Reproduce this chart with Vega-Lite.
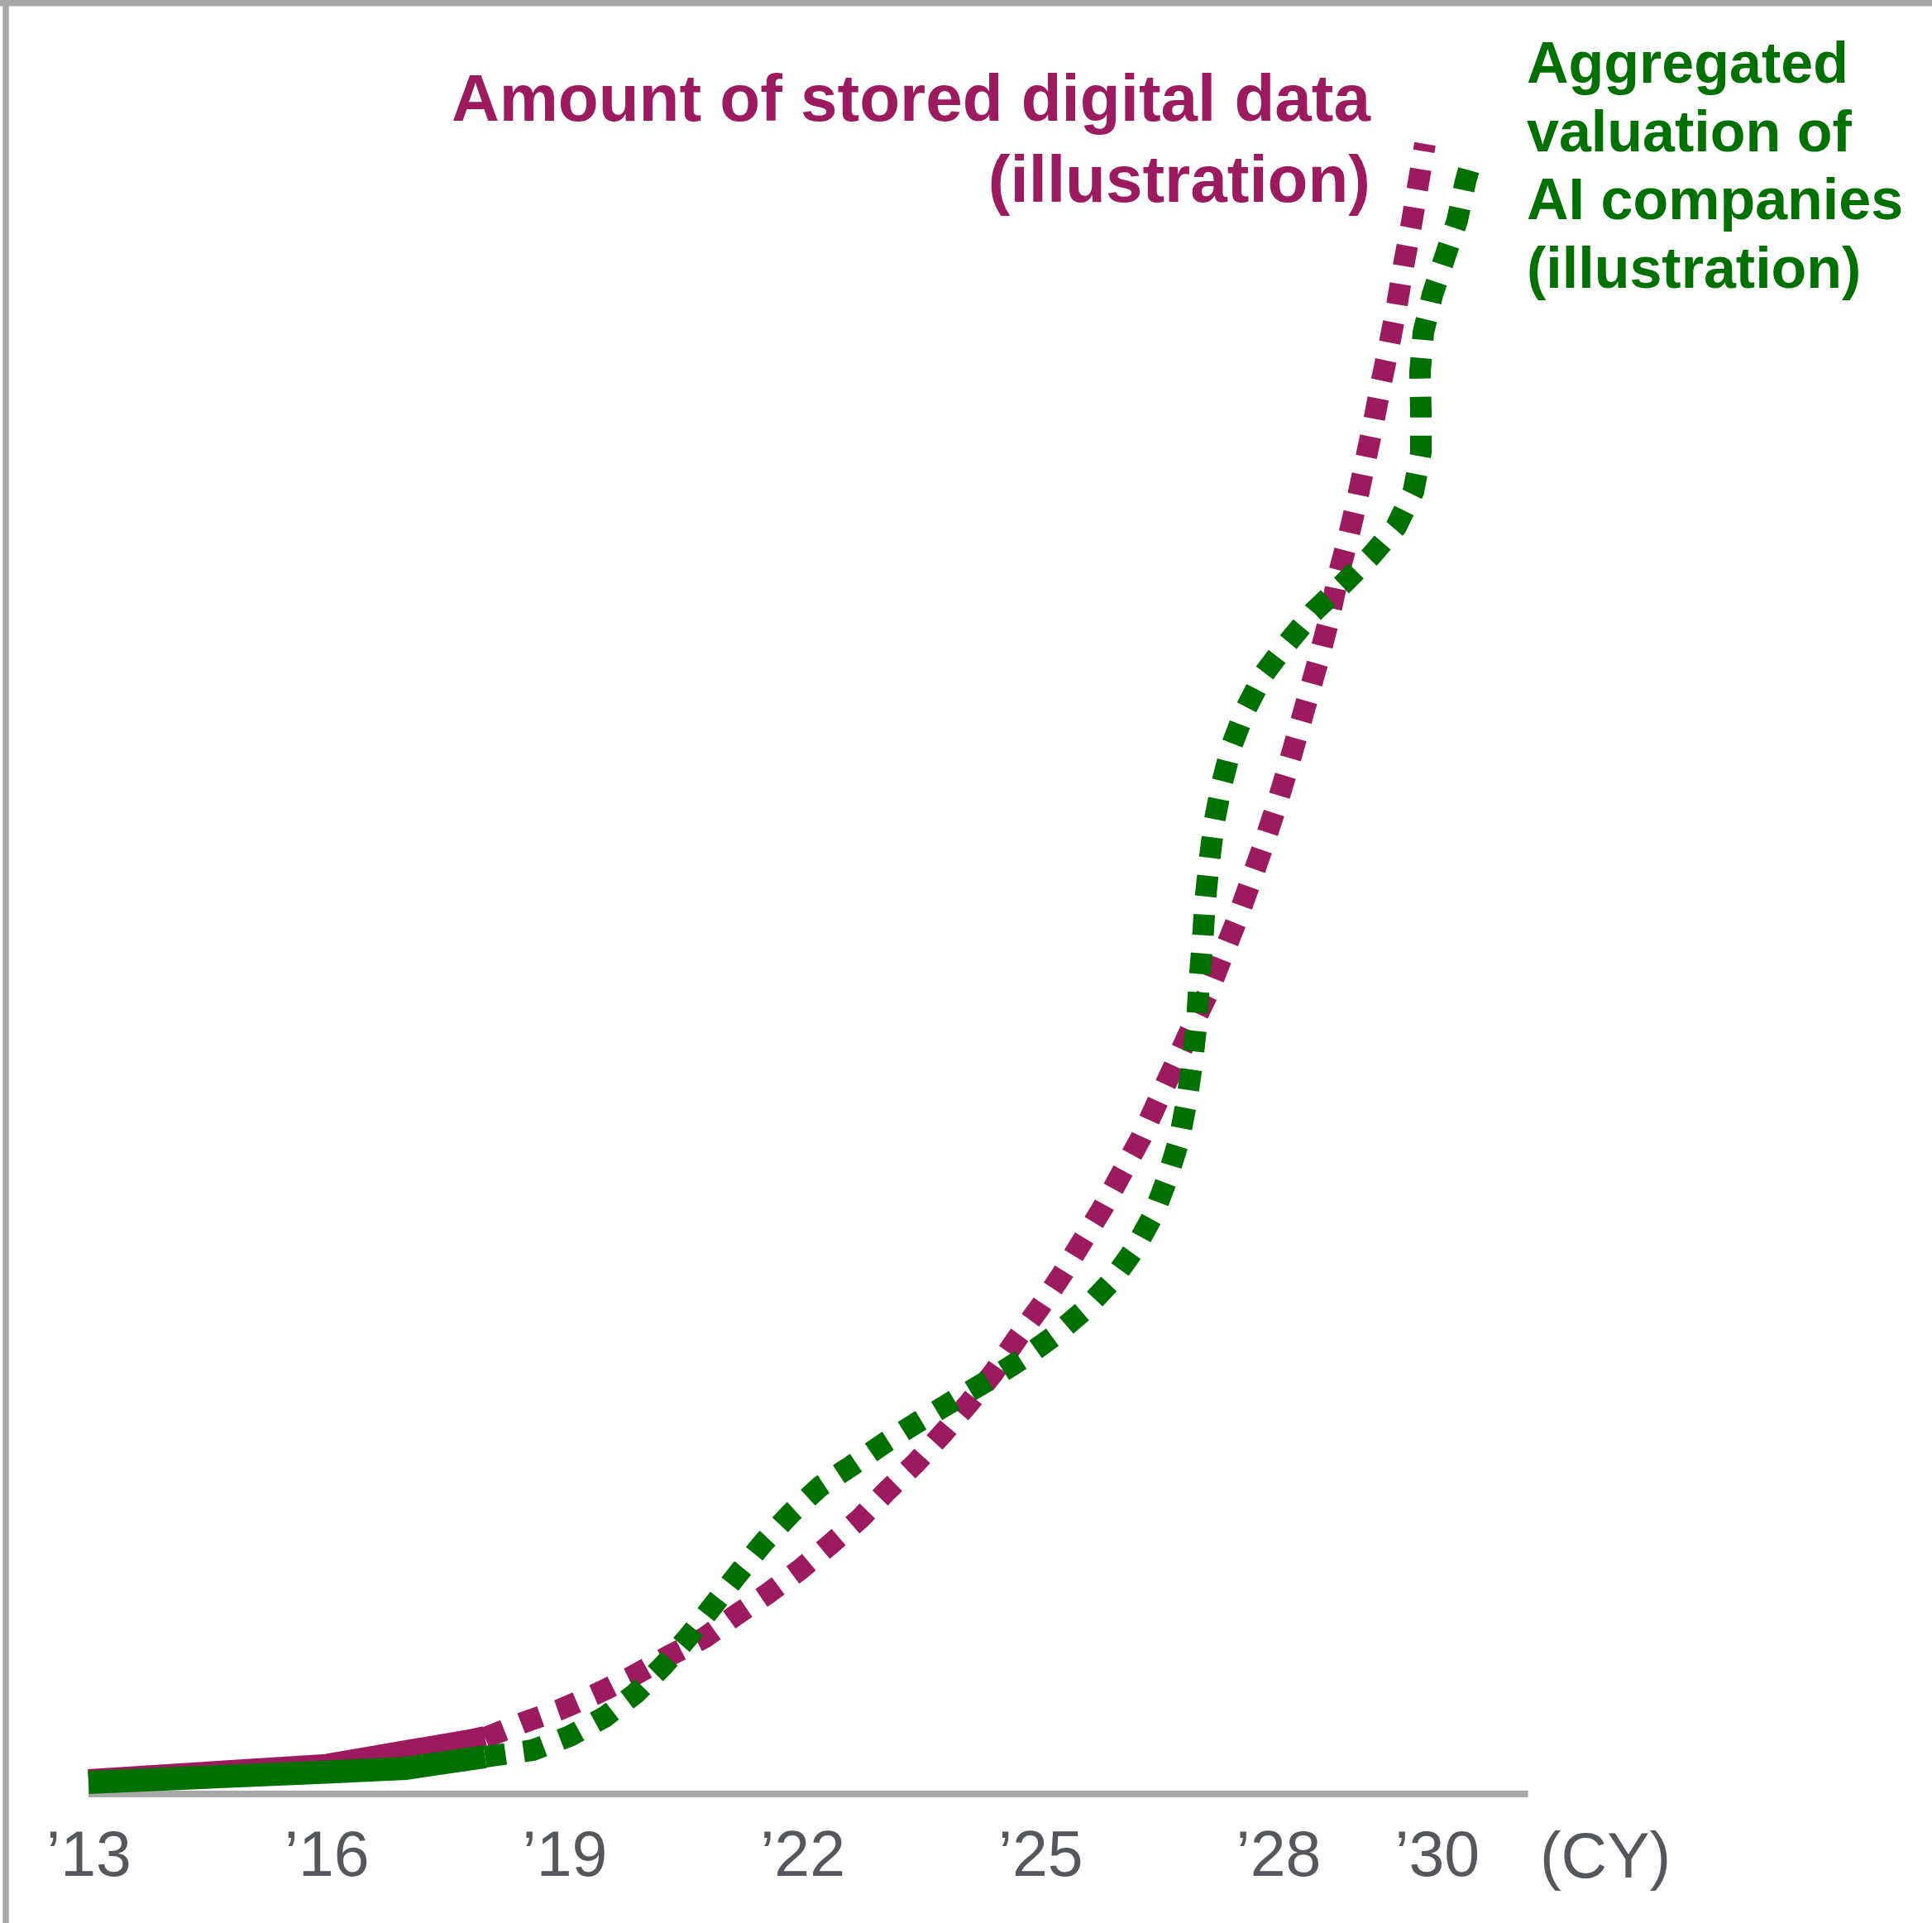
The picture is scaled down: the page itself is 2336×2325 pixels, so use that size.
{
  "$schema": "https://vega.github.io/schema/vega-lite/v6.json",
  "width": 2336,
  "height": 2325,
  "padding": 0,
  "autosize": {"type": "none"},
  "background": "white",
  "config": {"view": {"stroke": null}, "axis": {"grid": false}, "font": "Liberation Sans"},
  "datasets": {
    "purple_actual": [
      {"series": "Amount of stored digital data", "year": 2013.0, "value": 0.80},
      {"series": "Amount of stored digital data", "year": 2016.0, "value": 1.72},
      {"series": "Amount of stored digital data", "year": 2017.859, "value": 3.25},
      {"series": "Amount of stored digital data", "year": 2018.0, "value": 3.40}
    ],
    "purple_projection": [
      {"series": "Amount of stored digital data", "year": 2018.0, "value": 3.40},
      {"series": "Amount of stored digital data", "year": 2018.474, "value": 4.30},
      {"series": "Amount of stored digital data", "year": 2018.944, "value": 5.10},
      {"series": "Amount of stored digital data", "year": 2019.402, "value": 6.05},
      {"series": "Amount of stored digital data", "year": 2019.851, "value": 7.10},
      {"series": "Amount of stored digital data", "year": 2020.299, "value": 8.30},
      {"series": "Amount of stored digital data", "year": 2020.768, "value": 9.45},
      {"series": "Amount of stored digital data", "year": 2021.144, "value": 10.75},
      {"series": "Amount of stored digital data", "year": 2021.561, "value": 12.10},
      {"series": "Amount of stored digital data", "year": 2021.968, "value": 13.55},
      {"series": "Amount of stored digital data", "year": 2022.343, "value": 15.05},
      {"series": "Amount of stored digital data", "year": 2022.729, "value": 16.65},
      {"series": "Amount of stored digital data", "year": 2023.063, "value": 18.30},
      {"series": "Amount of stored digital data", "year": 2023.438, "value": 20.05},
      {"series": "Amount of stored digital data", "year": 2023.772, "value": 21.80},
      {"series": "Amount of stored digital data", "year": 2024.105, "value": 23.65},
      {"series": "Amount of stored digital data", "year": 2024.408, "value": 25.45},
      {"series": "Amount of stored digital data", "year": 2024.710, "value": 27.55},
      {"series": "Amount of stored digital data", "year": 2024.992, "value": 29.40},
      {"series": "Amount of stored digital data", "year": 2025.273, "value": 31.40},
      {"series": "Amount of stored digital data", "year": 2025.534, "value": 33.45},
      {"series": "Amount of stored digital data", "year": 2025.795, "value": 35.50},
      {"series": "Amount of stored digital data", "year": 2026.034, "value": 37.60},
      {"series": "Amount of stored digital data", "year": 2026.274, "value": 39.70},
      {"series": "Amount of stored digital data", "year": 2026.493, "value": 42.00},
      {"series": "Amount of stored digital data", "year": 2026.691, "value": 44.05},
      {"series": "Amount of stored digital data", "year": 2026.900, "value": 46.25},
      {"series": "Amount of stored digital data", "year": 2027.108, "value": 48.35},
      {"series": "Amount of stored digital data", "year": 2027.296, "value": 50.65},
      {"series": "Amount of stored digital data", "year": 2027.484, "value": 52.90},
      {"series": "Amount of stored digital data", "year": 2027.651, "value": 55.15},
      {"series": "Amount of stored digital data", "year": 2027.817, "value": 57.40},
      {"series": "Amount of stored digital data", "year": 2027.974, "value": 59.70},
      {"series": "Amount of stored digital data", "year": 2028.120, "value": 62.00},
      {"series": "Amount of stored digital data", "year": 2028.255, "value": 64.30},
      {"series": "Amount of stored digital data", "year": 2028.391, "value": 66.60},
      {"series": "Amount of stored digital data", "year": 2028.527, "value": 68.90},
      {"series": "Amount of stored digital data", "year": 2028.652, "value": 71.25},
      {"series": "Amount of stored digital data", "year": 2028.756, "value": 73.65},
      {"series": "Amount of stored digital data", "year": 2028.881, "value": 75.90},
      {"series": "Amount of stored digital data", "year": 2028.996, "value": 78.25},
      {"series": "Amount of stored digital data", "year": 2029.100, "value": 80.60},
      {"series": "Amount of stored digital data", "year": 2029.204, "value": 82.95},
      {"series": "Amount of stored digital data", "year": 2029.298, "value": 85.30},
      {"series": "Amount of stored digital data", "year": 2029.402, "value": 87.65},
      {"series": "Amount of stored digital data", "year": 2029.496, "value": 90.00},
      {"series": "Amount of stored digital data", "year": 2029.580, "value": 92.40},
      {"series": "Amount of stored digital data", "year": 2029.674, "value": 94.75},
      {"series": "Amount of stored digital data", "year": 2029.757, "value": 97.10},
      {"series": "Amount of stored digital data", "year": 2029.851, "value": 99.75}
    ],
    "green_actual": [
      {"series": "Aggregated valuation of AI companies", "year": 2013.0, "value": 0.70},
      {"series": "Aggregated valuation of AI companies", "year": 2016.0, "value": 1.33},
      {"series": "Aggregated valuation of AI companies", "year": 2017.0, "value": 1.55},
      {"series": "Aggregated valuation of AI companies", "year": 2018.0, "value": 2.25}
    ],
    "green_projection": [
      {"series": "Aggregated valuation of AI companies", "year": 2018.0, "value": 2.25},
      {"series": "Aggregated valuation of AI companies", "year": 2018.600, "value": 2.65},
      {"series": "Aggregated valuation of AI companies", "year": 2019.069, "value": 3.50},
      {"series": "Aggregated valuation of AI companies", "year": 2019.507, "value": 4.65},
      {"series": "Aggregated valuation of AI companies", "year": 2019.903, "value": 6.10},
      {"series": "Aggregated valuation of AI companies", "year": 2020.257, "value": 7.80},
      {"series": "Aggregated valuation of AI companies", "year": 2020.581, "value": 9.60},
      {"series": "Aggregated valuation of AI companies", "year": 2020.894, "value": 11.50},
      {"series": "Aggregated valuation of AI companies", "year": 2021.196, "value": 13.35},
      {"series": "Aggregated valuation of AI companies", "year": 2021.519, "value": 15.25},
      {"series": "Aggregated valuation of AI companies", "year": 2021.863, "value": 17.00},
      {"series": "Aggregated valuation of AI companies", "year": 2022.228, "value": 18.60},
      {"series": "Aggregated valuation of AI companies", "year": 2022.625, "value": 19.85},
      {"series": "Aggregated valuation of AI companies", "year": 2023.063, "value": 21.30},
      {"series": "Aggregated valuation of AI companies", "year": 2023.480, "value": 22.55},
      {"series": "Aggregated valuation of AI companies", "year": 2023.918, "value": 23.80},
      {"series": "Aggregated valuation of AI companies", "year": 2024.345, "value": 25.00},
      {"series": "Aggregated valuation of AI companies", "year": 2024.773, "value": 26.30},
      {"series": "Aggregated valuation of AI companies", "year": 2025.179, "value": 27.70},
      {"series": "Aggregated valuation of AI companies", "year": 2025.555, "value": 29.25},
      {"series": "Aggregated valuation of AI companies", "year": 2025.899, "value": 31.00},
      {"series": "Aggregated valuation of AI companies", "year": 2026.191, "value": 32.95},
      {"series": "Aggregated valuation of AI companies", "year": 2026.431, "value": 35.05},
      {"series": "Aggregated valuation of AI companies", "year": 2026.608, "value": 37.30},
      {"series": "Aggregated valuation of AI companies", "year": 2026.754, "value": 39.60},
      {"series": "Aggregated valuation of AI companies", "year": 2026.848, "value": 41.95},
      {"series": "Aggregated valuation of AI companies", "year": 2026.921, "value": 44.35},
      {"series": "Aggregated valuation of AI companies", "year": 2026.973, "value": 46.70},
      {"series": "Aggregated valuation of AI companies", "year": 2027.004, "value": 49.10},
      {"series": "Aggregated valuation of AI companies", "year": 2027.046, "value": 51.50},
      {"series": "Aggregated valuation of AI companies", "year": 2027.077, "value": 53.90},
      {"series": "Aggregated valuation of AI companies", "year": 2027.129, "value": 56.30},
      {"series": "Aggregated valuation of AI companies", "year": 2027.192, "value": 58.70},
      {"series": "Aggregated valuation of AI companies", "year": 2027.286, "value": 61.00},
      {"series": "Aggregated valuation of AI companies", "year": 2027.411, "value": 63.35},
      {"series": "Aggregated valuation of AI companies", "year": 2027.588, "value": 65.55},
      {"series": "Aggregated valuation of AI companies", "year": 2027.817, "value": 67.70},
      {"series": "Aggregated valuation of AI companies", "year": 2028.078, "value": 69.35},
      {"series": "Aggregated valuation of AI companies", "year": 2028.443, "value": 71.45},
      {"series": "Aggregated valuation of AI companies", "year": 2028.808, "value": 73.10},
      {"series": "Aggregated valuation of AI companies", "year": 2029.163, "value": 74.80},
      {"series": "Aggregated valuation of AI companies", "year": 2029.486, "value": 76.60},
      {"series": "Aggregated valuation of AI companies", "year": 2029.705, "value": 78.75},
      {"series": "Aggregated valuation of AI companies", "year": 2029.799, "value": 81.10},
      {"series": "Aggregated valuation of AI companies", "year": 2029.799, "value": 83.50},
      {"series": "Aggregated valuation of AI companies", "year": 2029.788, "value": 85.95},
      {"series": "Aggregated valuation of AI companies", "year": 2029.830, "value": 88.35},
      {"series": "Aggregated valuation of AI companies", "year": 2029.945, "value": 90.65},
      {"series": "Aggregated valuation of AI companies", "year": 2030.101, "value": 92.90},
      {"series": "Aggregated valuation of AI companies", "year": 2030.258, "value": 95.15},
      {"series": "Aggregated valuation of AI companies", "year": 2030.362, "value": 97.50},
      {"series": "Aggregated valuation of AI companies", "year": 2030.403, "value": 98.20}
    ]
  },
  "layer": [
    {
      "data": {"values": [{}]},
      "mark": {"type": "rule", "color": "#a6a9a8", "strokeWidth": 8},
      "encoding": {
        "x": {"datum": 2013},
        "x2": {"datum": 2031.15},
        "y": {"datum": 0}
      }
    },
    {
      "data": {"values": [{}]},
      "mark": {"type": "rule", "color": "#a6a9a8", "strokeWidth": 7.5},
      "encoding": {"y": {"datum": 108.2625}}
    },
    {
      "data": {"name": "purple_actual"},
      "mark": {"type": "line", "strokeWidth": 28, "strokeCap": "butt"},
      "encoding": {
        "x": {
          "field": "year", "type": "quantitative", "title": null,
          "scale": {"domain": [2011.8843, 2036.243], "nice": false, "zero": false},
          "axis": {
            "orient": "bottom", "offset": -156, "title": null,
            "values": [2013, 2016, 2019, 2022, 2025, 2028, 2030],
            "format": "d", "labelExpr": "'’' + slice(datum.label, 2)",
            "domain": false, "ticks": false, "tickSize": 0, "grid": false,
            "labelFont": "Liberation Sans", "labelFontSize": 77, "labelColor": "#54585d",
            "labelBaseline": "alphabetic", "labelPadding": 98, "labelAlign": "center",
            "labelFlush": false, "labelOverlap": false, "labelBound": false
          }
        },
        "y": {
          "field": "value", "type": "quantitative", "title": null,
          "scale": {"domain": [-7.8, 108.45], "nice": false, "zero": false},
          "axis": {
            "orient": "left", "offset": -6.5, "title": null,
            "domain": true, "domainColor": "#a6a9a8", "domainWidth": 7.5,
            "ticks": false, "labels": false, "grid": false
          }
        },
        "color": {
          "field": "series", "type": "nominal", "legend": null,
          "scale": {"domain": ["Amount of stored digital data", "Aggregated valuation of AI companies"], "range": ["#9b1b5e", "#007000"]}
        },
        "order": {"value": null}
      }
    },
    {
      "data": {"name": "purple_projection"},
      "mark": {"type": "line", "strokeWidth": 26, "strokeDash": [25, 22], "strokeCap": "butt"},
      "encoding": {
        "x": {"field": "year", "type": "quantitative", "title": null},
        "y": {"field": "value", "type": "quantitative", "title": null},
        "color": {"field": "series", "type": "nominal", "legend": null},
        "order": {"value": null}
      }
    },
    {
      "data": {"name": "green_actual"},
      "mark": {"type": "line", "strokeWidth": 28, "strokeCap": "butt"},
      "encoding": {
        "x": {"field": "year", "type": "quantitative", "title": null},
        "y": {"field": "value", "type": "quantitative", "title": null},
        "color": {"field": "series", "type": "nominal", "legend": null},
        "order": {"value": null}
      }
    },
    {
      "data": {"name": "green_projection"},
      "mark": {"type": "line", "strokeWidth": 26, "strokeDash": [25, 22], "strokeCap": "butt"},
      "encoding": {
        "x": {"field": "year", "type": "quantitative", "title": null},
        "y": {"field": "value", "type": "quantitative", "title": null},
        "color": {"field": "series", "type": "nominal", "legend": null},
        "order": {"value": null}
      }
    },
    {
      "data": {"values": [{}]},
      "mark": {
        "type": "text", "align": "right", "baseline": "alphabetic",
        "font": "Liberation Sans", "fontSize": 80, "fontWeight": "bold",
        "color": "#9b1b5e", "lineHeight": 98,
        "text": ["Amount of stored digital data", "(illustration)"]
      },
      "encoding": {"x": {"datum": 2029.1626}, "y": {"datum": 101.15}}
    },
    {
      "data": {"values": [{}]},
      "mark": {
        "type": "text", "align": "left", "baseline": "alphabetic",
        "font": "Liberation Sans", "fontSize": 70, "fontWeight": "bold",
        "color": "#007000", "lineHeight": 82.7,
        "text": ["Aggregated", "valuation of", "AI companies", "(illustration)"]
      },
      "encoding": {"x": {"datum": 2031.1335}, "y": {"datum": 103.45}}
    },
    {
      "data": {"values": [{}]},
      "mark": {
        "type": "text", "align": "left", "baseline": "alphabetic",
        "font": "Liberation Sans", "fontSize": 77, "color": "#54585d",
        "text": "(CY)"
      },
      "encoding": {"x": {"datum": 2031.3}, "y": {"datum": -5.05}}
    }
  ]
}
